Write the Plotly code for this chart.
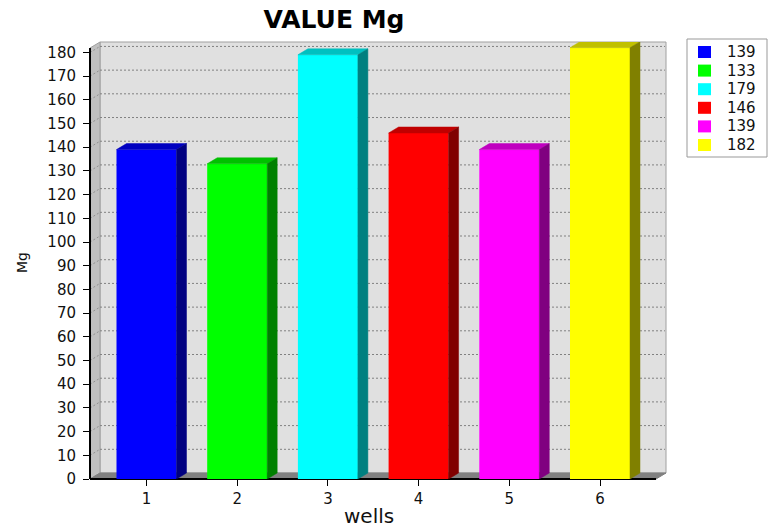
import plotly.graph_objects as go

wells = [1, 2, 3, 4, 5, 6]
values = [139, 133, 179, 146, 139, 182]
legend_names = ["139", "133", "179", "146", "139", "182"]
front_colors = ["#0000ff", "#00ff00", "#00ffff", "#ff0000", "#ff00ff", "#ffff00"]
top_colors = ["#0000c0", "#00c000", "#00c0c0", "#c00000", "#c000c0", "#c0c000"]
side_colors = ["#000080", "#008000", "#008080", "#800000", "#800080", "#808000"]
y_ticks = list(range(0, 190, 10))

# plot area geometry (pixels)
L, R, T, B = 90, 666, 42, 479
PW, PH = R - L, B - T
SPACING = 90.7
X0 = 1 - 56.5 / SPACING
X1 = X0 + PW / SPACING
YMAX = 184.4
DXP, DYP = 10, 6
DX = DXP / SPACING
DY = DYP * YMAX / PH
a = DXP / PW
b = DYP / PH
BAR_W = 60 / SPACING
hw = BAR_W / 2


def px(xpix):
    return (xpix - L) / PW


def py(ypix):
    return (B - ypix) / PH


fig = go.Figure()

for i, (w, v) in enumerate(zip(wells, values)):
    fig.add_trace(go.Bar(x=[w], y=[v], width=BAR_W, name=legend_names[i],
                         marker=dict(color=front_colors[i], line=dict(width=0)),
                         hoverinfo="skip", showlegend=False))

for i, (w, v) in enumerate(zip(wells, values)):
    fig.add_trace(go.Scatter(
        x=[w - hw, w - hw + DX, w + hw + DX, w + hw, w - hw],
        y=[v, v + DY, v + DY, v, v],
        fill="toself", fillcolor=top_colors[i], mode="lines",
        line=dict(width=0.5, color=top_colors[i]), showlegend=False, hoverinfo="skip"))
    fig.add_trace(go.Scatter(
        x=[w + hw, w + hw + DX, w + hw + DX, w + hw, w + hw],
        y=[0, DY, v + DY, v, 0],
        fill="toself", fillcolor=side_colors[i], mode="lines",
        line=dict(width=0.5, color=side_colors[i]), showlegend=False, hoverinfo="skip"))

shapes = []
# back wall
shapes.append(dict(type="rect", xref="paper", yref="paper", x0=a, x1=1, y0=b, y1=1,
                   fillcolor="#e0e0e0", line=dict(color="#a0a0a0", width=1), layer="below"))
# side wall
shapes.append(dict(type="path", xref="paper", yref="paper",
                   path=f"M 0,0 L {a},{b} L {a},1 L 0,{1-b} Z",
                   fillcolor="#c0c0c0", line=dict(color="#a0a0a0", width=1), layer="below"))
# floor
shapes.append(dict(type="path", xref="paper", yref="paper",
                   path=f"M 0,0 L {1-a},0 L 1,{b} L {a},{b} Z",
                   fillcolor="#808080", line=dict(color="#808080", width=1), layer="below"))
# grid lines
for v in y_ticks[1:]:
    yp = v / YMAX + b
    shapes.append(dict(type="line", xref="paper", yref="paper", x0=a, x1=1 - 1 / PW, y0=yp, y1=yp,
                       line=dict(color="#808080", width=1, dash="2px,2px"), layer="below"))
    shapes.append(dict(type="line", xref="paper", yref="paper", x0=0, x1=a, y0=v / YMAX, y1=yp,
                       line=dict(color="#909090", width=1, dash="2px,2px"), layer="below"))
# axis lines
shapes.append(dict(type="line", xref="paper", yref="paper", x0=0, x1=0, y0=0, y1=1 - b,
                   line=dict(color="black", width=2), layer="below"))
shapes.append(dict(type="line", xref="paper", yref="paper", x0=0, x1=1 - a, y0=0, y1=0,
                   line=dict(color="black", width=2), layer="below"))

FONT = "DejaVu Sans, Arial, sans-serif"
TXT = "#111111"

annotations = [
    dict(text="wells", xref="paper", yref="paper", x=px(369), y=py(516),
         xanchor="center", yanchor="middle", showarrow=False,
         font=dict(family=FONT, size=20, color=TXT)),
    dict(text="Mg", xref="paper", yref="paper", x=px(22), y=py(263),
         xanchor="center", yanchor="middle", showarrow=False, textangle=-90,
         font=dict(family=FONT, size=14, color=TXT)),
]

# legend box (manual, to match the compact row spacing of the reference)
LEG_L, LEG_T, LEG_R, LEG_B = 687, 39, 767, 157
ROW0, ROWH = 52, 18.6
shapes.append(dict(type="rect", xref="paper", yref="paper", x0=px(LEG_L), x1=px(LEG_R),
                   y0=py(LEG_B), y1=py(LEG_T), fillcolor="white",
                   line=dict(color="#999999", width=1), layer="above"))
for i, name in enumerate(legend_names):
    cy = ROW0 + i * ROWH
    shapes.append(dict(type="rect", xref="paper", yref="paper",
                       x0=px(698), x1=px(711), y0=py(cy + 6), y1=py(cy - 6),
                       fillcolor=front_colors[i], line=dict(width=0), layer="above"))
    annotations.append(dict(text=name, xref="paper", yref="paper", x=px(725), y=py(cy),
                            xanchor="left", yanchor="middle", showarrow=False,
                            font=dict(family=FONT, size=15, color=TXT)))

fig.update_layout(
    width=768, height=529,
    margin=dict(l=L, r=768 - R, t=T, b=529 - B, pad=0),
    paper_bgcolor="white", plot_bgcolor="white",
    barmode="overlay",
    shapes=shapes,
    showlegend=False,
    title=dict(text="<b>VALUE Mg</b>", x=334 / 768, xref="container", xanchor="center",
               y=1 - 19 / 529, yref="container", yanchor="middle",
               font=dict(family=FONT, size=25, color="#000000")),
    xaxis=dict(range=[X0, X1], tickvals=wells, ticktext=[str(w) for w in wells],
               showgrid=False, zeroline=False, showline=False,
               ticks="outside", ticklen=6, tickwidth=1, tickcolor="black",
               tickfont=dict(family=FONT, size=15, color=TXT), fixedrange=True),
    yaxis=dict(range=[0, YMAX], tickvals=y_ticks,
               showgrid=False, zeroline=False, showline=False,
               ticks="outside", ticklen=6, tickwidth=1, tickcolor="black",
               ticklabelstandoff=4,
               tickfont=dict(family=FONT, size=15, color=TXT), fixedrange=True),
    annotations=annotations,
)

fig.write_html("out.html")
